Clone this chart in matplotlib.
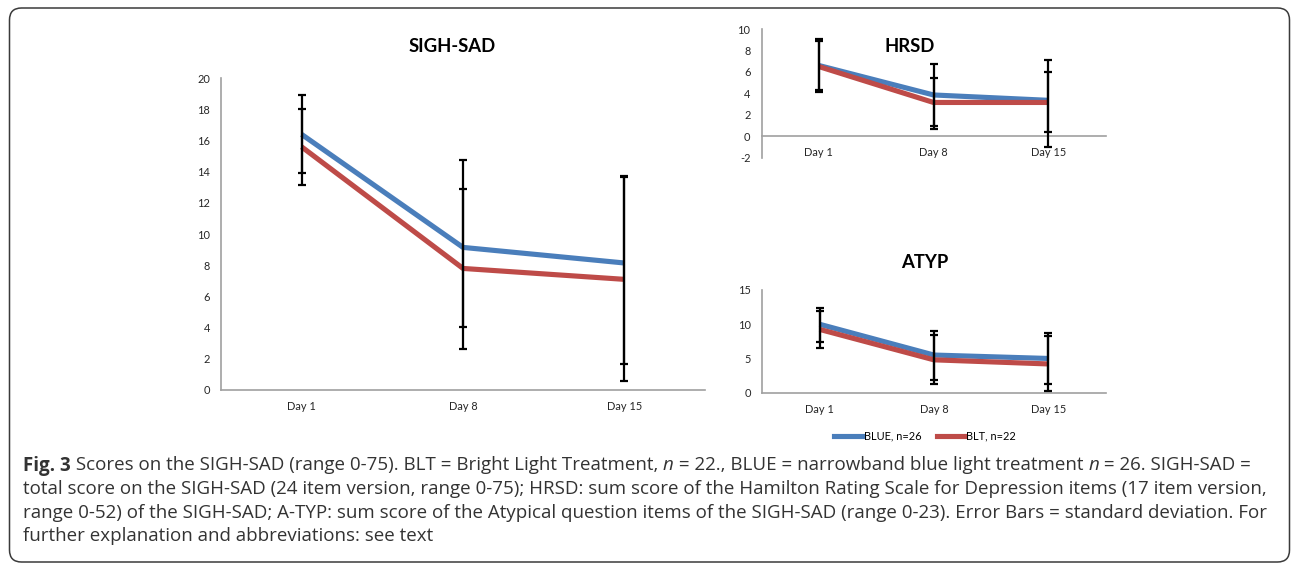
import matplotlib
matplotlib.use("Agg")
import matplotlib.pyplot as plt
from matplotlib.patches import FancyBboxPatch
from matplotlib.transforms import IdentityTransform
from matplotlib.lines import Line2D

plt.rcParams["axes.unicode_minus"] = False

# ---------------- data ----------------
days = ["Day 1", "Day 8", "Day 15"]
series_names = ["BLUE, n=26", "BLT, n=22"]

sigh_blue = [16.4, 9.15, 8.15]
sigh_blt = [15.6, 7.8, 7.1]
sigh_blue_hi = [18.95, 14.75, 13.7]
sigh_blue_lo = [13.95, 4.05, 1.65]
sigh_blt_hi = [18.0, 12.9, 13.65]
sigh_blt_lo = [13.15, 2.65, 0.55]

hrsd_blue = [6.6, 3.85, 3.35]
hrsd_blt = [6.5, 3.15, 3.15]
hrsd_blue_hi = [9.1, 6.7, 7.1]
hrsd_blue_lo = [4.1, 1.0, -1.0]
hrsd_blt_hi = [8.85, 5.4, 6.0]
hrsd_blt_lo = [4.3, 0.7, 0.4]

atyp_blue = [10.0, 5.5, 5.0]
atyp_blt = [9.25, 4.8, 4.2]
atyp_blue_hi = [12.4, 9.0, 8.7]
atyp_blue_lo = [7.45, 1.85, 1.25]
atyp_blt_hi = [12.0, 8.45, 8.25]
atyp_blt_lo = [6.5, 1.25, 0.3]

caption_lines = [
    [("Fig. 3", "bold", "normal"),
     (" Scores on the SIGH-SAD (range 0-75). BLT = Bright Light Treatment, ", "normal", "normal"),
     ("n", "normal", "italic"),
     (" = 22., BLUE = narrowband blue light treatment ", "normal", "normal"),
     ("n", "normal", "italic"),
     (" = 26. SIGH-SAD =", "normal", "normal")],
    [("total score on the SIGH-SAD (24 item version, range 0-75); HRSD: sum score of the Hamilton Rating Scale for Depression items (17 item version,", "normal", "normal")],
    [("range 0-52) of the SIGH-SAD; A-TYP: sum score of the Atypical question items of the SIGH-SAD (range 0-23). Error Bars = standard deviation. For", "normal", "normal")],
    [("further explanation and abbreviations: see text", "normal", "normal")],
]

# ---------------- style ----------------
W, H = 1292, 567
BLUE = "#4A7EBB"
RED = "#BE4B48"
AXC = "#A0A0A0"
TXT = "#262626"
CHART_FONT = ["Lato", "DejaVu Sans"]
CAP_FONT = ["Open Sans", "DejaVu Sans"]

fig = plt.figure(figsize=(W / 100, H / 100), dpi=100)
fig.patch.set_facecolor("white")


def px_axes(x0, x1, ytop, ybot):
    return fig.add_axes([x0 / W, 1 - ybot / H, (x1 - x0) / W, (ybot - ytop) / H])


def draw_panel(ax, blue, blt, bhi, blo, rhi, rlo, ylim, yticks, lw=3.7):
    x = list(range(len(days)))
    ax.plot(x, blue, color=BLUE, lw=lw, solid_capstyle="butt", zorder=2, label=series_names[0])
    ax.plot(x, blt, color=RED, lw=lw, solid_capstyle="butt", zorder=2, label=series_names[1])
    for mean, hi, lo in ((blue, bhi, blo), (blt, rhi, rlo)):
        yerr = [[m - l for m, l in zip(mean, lo)], [h - m for m, h in zip(mean, hi)]]
        ax.errorbar(x, mean, yerr=yerr, fmt="none", ecolor="black", elinewidth=1.6,
                    capsize=2.6, capthick=1.6, zorder=3)
    ax.set_xlim(-0.5, len(days) - 0.5)
    ax.set_ylim(*ylim)
    ax.set_yticks(yticks)
    ax.set_xticks(x)
    ax.set_xticklabels(days)
    for s in ("top", "right"):
        ax.spines[s].set_visible(False)
    ax.spines["left"].set_color(AXC)
    ax.spines["bottom"].set_color(AXC)
    ax.spines["left"].set_linewidth(1.2)
    ax.spines["bottom"].set_linewidth(1.2)
    ax.spines["bottom"].set_position(("data", 0))
    ax.tick_params(length=0, labelsize=7.9, colors=TXT, pad=8)
    ax.tick_params(axis="x", pad=8)
    for lab in ax.get_xticklabels() + ax.get_yticklabels():
        lab.set_family(CHART_FONT)
    ax.patch.set_alpha(0)


ax1 = px_axes(221, 705, 78.3, 390)
draw_panel(ax1, sigh_blue, sigh_blt, sigh_blue_hi, sigh_blue_lo, sigh_blt_hi, sigh_blt_lo,
           (0, 20), range(0, 21, 2))

ax2 = px_axes(761.5, 1105.5, 29, 157.7)
draw_panel(ax2, hrsd_blue, hrsd_blt, hrsd_blue_hi, hrsd_blue_lo, hrsd_blt_hi, hrsd_blt_lo,
           (-2, 10), range(-2, 11, 2))

ax3 = px_axes(762.3, 1105.5, 290, 392.7)
draw_panel(ax3, atyp_blue, atyp_blt, atyp_blue_hi, atyp_blue_lo, atyp_blt_hi, atyp_blt_lo,
           (0, 15), range(0, 16, 5))

# titles
for label, cx, cy in (("SIGH-SAD", 452, 46), ("HRSD", 910, 47), ("ATYP", 925, 262)):
    fig.text(cx / W, 1 - cy / H, label, ha="center", va="center", fontsize=13.3,
             fontweight="bold", family=CHART_FONT, color="black")

# legend
handles = [Line2D([], [], color=BLUE, lw=3.7), Line2D([], [], color=RED, lw=3.7)]
fig.legend(handles, series_names, loc="center", bbox_to_anchor=(925 / W, 1 - 436 / H),
           ncol=2, frameon=False, handlelength=2.6, handletextpad=0.1, columnspacing=1.4,
           prop={"family": CHART_FONT, "size": 7.9})

# frame
frame = FancyBboxPatch((9.5, H - 562), 1280, 554, boxstyle="round,pad=0,rounding_size=12",
                       transform=IdentityTransform(), facecolor="none", edgecolor="#3a3a3a",
                       lw=1.1, zorder=0)
fig.patches.append(frame)

# caption
fig.canvas.draw()
renderer = fig.canvas.get_renderer()


def seg_width(text, weight, style, size):
    t1 = fig.text(0, 0, "|" + text + "|", fontsize=size, fontweight=weight, fontstyle=style,
                  family=CAP_FONT)
    t2 = fig.text(0, 0, "||", fontsize=size, fontweight=weight, fontstyle=style,
                  family=CAP_FONT)
    w = t1.get_window_extent(renderer).width - t2.get_window_extent(renderer).width
    t1.remove()
    t2.remove()
    return w


cap_size = 10.4
target = 1262 - 23
w2 = seg_width(caption_lines[1][0][0], "normal", "normal", cap_size)
cap_size = cap_size * target / w2

baselines = [470.5, 494, 517.5, 541]
for segs, yb in zip(caption_lines, baselines):
    x = 23
    for text, weight, style in segs:
        fig.text(x / W, 1 - yb / H, text, fontsize=cap_size, fontweight=weight,
                 fontstyle=style, family=CAP_FONT, color="#333333", ha="left", va="baseline")
        x += seg_width(text, weight, style, cap_size)

fig.savefig("out.png", dpi=100, facecolor="white")
